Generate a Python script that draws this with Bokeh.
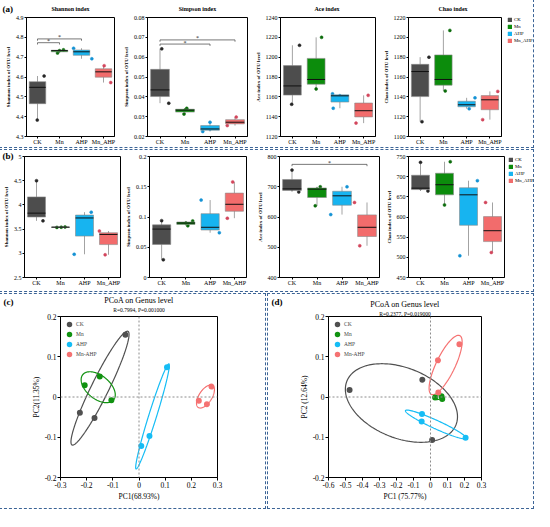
import numpy as np
from bokeh.plotting import figure
from bokeh.models import Range1d, FixedTicker, Label, Legend, LegendItem, Span, GridBox
from bokeh.layouts import row
from bokeh.embed import file_html
from bokeh.resources import INLINE

SERIF = "Liberation Serif"

# ---------------- data: box plots (three replicates per group, low/mid/high) ----------------
groups = ["CK", "Mn", "AHP", "Mn_AHP"]
box_fill = ["#4d4d4d", "#0c8c0c", "#17b4f0", "#f26c6c"]
dot_color = ["#262626", "#0b6b0b", "#1592d4", "#d2465c"]

a_shannon = [[4.383, 4.548, 4.605], [4.721, 4.733, 4.737], [4.692, 4.727, 4.745], [4.572, 4.626, 4.657]]
a_simpson = [[0.0368, 0.0435, 0.0642], [0.0313, 0.0333, 0.0342], [0.0225, 0.0238, 0.0272], [0.0255, 0.0272, 0.0298]]
a_ace = [[1152.5, 1171, 1212], [1168, 1177.5, 1220], [1148.5, 1161, 1163], [1133.5, 1146, 1161.5]]
a_chao = [[1115, 1165.5, 1180], [1146, 1157.5, 1207], [1128, 1132, 1139], [1117, 1137, 1145.5]]

b_shannon = [[3.67, 3.83, 4.5], [3.535, 3.54, 3.545], [2.98, 3.73, 3.85], [2.97, 3.39, 3.46]]
b_simpson = [[0.0293, 0.080, 0.094], [0.0855, 0.090, 0.0935], [0.074, 0.083, 0.128], [0.098, 0.121, 0.158]]
b_ace = [[683, 693, 755], [637, 692, 700], [608, 670, 700], [505, 566, 648]]
b_chao = [[664.5, 671.5, 735.5], [630, 680, 737], [504, 655, 690], [512, 566, 636]]

# horizontal jitter of the replicate points (category units)
a_shannon_jit = [[-0.01, 0.0, 0.30], [-0.09, 0.0, 0.18], [0.47, 0.0, -0.36], [0.33, 0.0, 0.03]]
a_simpson_jit = [[0.35, 0.0, 0.07], [-0.04, 0.0, 0.07], [-0.29, 0.0, 0.0], [-0.31, 0.0, 0.05]]
a_ace_jit = [[-0.03, 0.0, 0.30], [0.0, 0.0, 0.23], [-0.28, 0.0, -0.31], [-0.32, 0.0, 0.19]]
a_chao_jit = [[0.08, 0.0, 0.38], [0.08, 0.0, 0.28], [0.11, 0.0, 0.36], [-0.31, 0.0, 0.34]]
b_shannon_jit = [[0.27, 0.0, 0.0], [-0.15, 0.03, 0.19], [-0.43, 0.0, 0.28], [-0.14, 0.0, -0.38]]
b_simpson_jit = [[0.07, 0.0, 0.0], [0.08, 0.0, 0.28], [0.38, 0.0, -0.37], [-0.29, 0.0, -0.07]]
b_ace_jit = [[0.27, 0.0, 0.0], [-0.07, 0.0, 0.13], [-0.45, 0.0, 0.2], [-0.29, 0.0, -0.5]]
b_chao_jit = [[0.31, 0.0, 0.0], [0.0, 0.0, 0.24], [-0.36, 0.0, 0.37], [-0.05, 0.0, -0.29]]

# significance brackets: (group from, group to, height)
a_shannon_sig = [(1, 2, 4.773), (1, 3, 4.792)]
a_simpson_sig = [(1, 3, 0.0666), (1, 4, 0.0687)]
b_ace_sig = [(1, 4, 774)]

# titles
a_titles = ["Shannon index", "Simpson index", "Ace index", "Chao index"]
y_titles = ["Shannon index of OTU level", "Simpson index of OTU level",
            "Ace index of OTU level", "Chao index of OTU level"]

# axis ticks
a_shannon_ticks = [4.3, 4.4, 4.5, 4.6, 4.7, 4.8, 4.9]
a_shannon_labels = ["4.3", "4.4", "4.5", "4.6", "4.7", "4.8", "4.9"]
a_simpson_ticks = [0.02, 0.03, 0.04, 0.05, 0.06, 0.07, 0.08]
a_simpson_labels = ["0.02", "0.03", "0.04", "0.05", "0.06", "0.07", "0.08"]
a_ace_ticks = [1120, 1140, 1160, 1180, 1200, 1220, 1240]
a_ace_labels = ["1120", "1140", "1160", "1180", "1200", "1220", "1240"]
a_chao_ticks = [1100, 1120, 1140, 1160, 1180, 1200, 1220]
a_chao_labels = ["1100", "1120", "1140", "1160", "1180", "1200", "1220"]
b_shannon_ticks = [2.5, 3, 3.5, 4, 4.5, 5]
b_shannon_labels = ["2.5", "3", "3.5", "4", "4.5", "5"]
b_simpson_ticks = [0, 0.05, 0.1, 0.15, 0.2]
b_simpson_labels = ["0", "0.05", "0.1", "0.15", "0.2"]
b_ace_ticks = [400, 500, 600, 700, 800]
b_ace_labels = ["400", "500", "600", "700", "800"]
b_chao_ticks = [450, 500, 550, 600, 650, 700, 750]
b_chao_labels = ["450", "500", "550", "600", "650", "700", "750"]

# ---------------- data: PCoA ----------------
pc_groups = ["CK", "Mn", "AHP", "Mn-AHP"]
pc_colors = ["#505050", "#119211", "#16bdf5", "#f57272"]

c_x = [[-0.052, -0.226, -0.170], [-0.2075, -0.150, -0.1056], [0.107, 0.040, 0.0087], [0.277, 0.2286, 0.2596]]
c_y = [[0.1545, -0.039, -0.052], [0.029, 0.051, -0.0078], [0.0737, -0.097, -0.122], [0.0259, -0.0094, -0.018]]
# ellipses: centre (cx, cy) and conjugate semi-axis vectors u, v
c_ell = [(-0.149, 0.022, 0.1068, 0.1412, 0.0303, -0.0091),
         (-0.1559, 0.0243, 0.0652, -0.0187, 0.0, -0.0336),
         (0.0516, -0.0482, 0.0627, 0.1306, 0.0143, -0.0027),
         (0.254, 0.0012, 0.0342, 0.0166, 0.0, -0.0233)]

d_x = [[-0.476, -0.048, 0.0096], [0.027, 0.065, 0.069], [-0.050, -0.052, 0.2065], [0.170, 0.044, 0.046]]
d_y = [[0.0177, 0.043, -0.107], [-0.001, 0.002, -0.005], [-0.042, -0.061, -0.101], [0.131, 0.091, 0.011]]
d_ell = [(-0.171, -0.0149, 0.3298, -0.034, 0.0, -0.0915),
         (0.0468, -0.0004, 0.0258, 0.002, 0.0, 0.0056),
         (0.0316, -0.0683, 0.1788, -0.0345, -0.0104, -0.0095),
         (0.0889, 0.0795, 0.0832, 0.0731, 0.0501, -0.0100)]

c_xticks = [-0.3, -0.2, -0.1, 0, 0.1, 0.2, 0.3]
c_xlabels = ["-0.3", "-0.2", "-0.1", "0", "0.1", "0.2", "0.3"]
d_xticks = [-0.6, -0.5, -0.4, -0.3, -0.2, -0.1, 0, 0.1, 0.2, 0.3]
d_xlabels = ["-0.6", "-0.5", "-0.4", "-0.3", "-0.2", "-0.1", "0", "0.1", "0.2", "0.3"]
pc_yticks = [-0.2, -0.1, 0, 0.1, 0.2]
pc_ylabels = ["-0.2", "-0.1", "0", "0.1", "0.2"]
pc_title = "PCoA on Genus level"
c_stat = "R=0.7994, P=0.001000"
d_stat = "R=0.2377, P=0.019000"

DASH = {"outline": "1px dashed #3c6496", "outline-offset": "0px"}


def make_fig(geom, xr, yr):
    w, h, bl, br, bt, bb = geom
    p = figure(width=w, height=h, x_range=xr, y_range=yr, output_backend="svg",
               toolbar_location=None, min_border_left=bl, min_border_right=br,
               min_border_top=bt, min_border_bottom=bb)
    p.grid.visible = False
    p.outline_line_color = "black"
    p.outline_line_width = 1
    p.outline_line_alpha = 1
    p.background_fill_color = "white"
    p.border_fill_color = "white"
    return p


def style_axes(p, tick_size, label_size, tick_out, std, lab_std, bold):
    for ax in list(p.xaxis) + list(p.yaxis):
        ax.axis_line_color = "black"
        ax.axis_line_width = 1
        ax.major_tick_line_color = "black"
        ax.major_tick_in = 0
        ax.major_tick_out = tick_out
        ax.minor_tick_line_color = None
        ax.major_label_text_font = SERIF
        ax.major_label_text_font_size = tick_size
        ax.major_label_text_color = "black"
        ax.major_label_standoff = std
        ax.axis_label_text_font = SERIF
        ax.axis_label_text_font_size = label_size
        ax.axis_label_text_font_style = "bold" if bold else "normal"
        ax.axis_label_text_color = "black"
        ax.axis_label_standoff = lab_std


def box_panel(vals, jit, ylim, yticks, ylabels, ylabel, geom, sig=()):
    p = make_fig(geom, Range1d(0.5, 4.5), Range1d(*ylim))
    xs = np.arange(1, len(groups) + 1, dtype=float)
    v = np.array(vals, dtype=float)
    q1 = np.percentile(v, 25, axis=1)
    med = np.median(v, axis=1)
    q3 = np.percentile(v, 75, axis=1)
    lo = v.min(axis=1)
    hi = v.max(axis=1)
    p.segment(x0=xs, y0=lo, x1=xs, y1=hi, line_color="#a3a3a3", line_width=1)
    for i in range(len(groups)):
        p.scatter(xs[i] + np.array(jit[i]), v[i], size=3, fill_color=dot_color[i],
                  line_color=dot_color[i], line_width=0.5)
    p.vbar(x=xs, bottom=q1, top=q3, width=0.75, fill_color=box_fill,
           line_color="#8a8a8a", line_width=0.6)
    p.segment(x0=xs - 0.375, y0=med, x1=xs + 0.375, y1=med, line_color="#111111", line_width=1)

    span = ylim[1] - ylim[0]
    for (i, j, yb) in sig:
        d = 0.015 * span
        p.line([i, i, j, j], [yb - d, yb, yb, yb - d], line_color="#555555", line_width=0.8)
        p.add_layout(Label(x=(i + j) / 2, y=yb, y_offset=1.5, text="*", text_align="center",
                           text_baseline="middle", text_font=SERIF, text_font_size="6px",
                           text_color="#222222"))

    p.xaxis.ticker = FixedTicker(ticks=list(xs))
    p.xaxis.major_label_overrides = {int(x): g for x, g in zip(xs, groups)}
    p.yaxis.ticker = FixedTicker(ticks=yticks)
    p.yaxis.major_label_overrides = dict(zip(yticks, ylabels))
    p.yaxis.axis_label = ylabel
    style_axes(p, "6px", "5px", 2, 1, 2, True)
    p.xaxis.major_label_standoff = 0
    return p


def pcoa_panel(xs, ys, ell, xlim, xticks, xlabels, xlab, ylab, geom):
    p = make_fig(geom, Range1d(*xlim), Range1d(-0.2, 0.2))
    p.add_layout(Span(location=0, dimension="height", line_color="#8c8c8c",
                      line_dash="2 2", line_width=1))
    p.add_layout(Span(location=0, dimension="width", line_color="#8c8c8c",
                      line_dash="2 2", line_width=1))
    t = np.linspace(0, 2 * np.pi, 200)
    for i in range(len(pc_groups)):
        cx, cy, ux, uy, vx, vy = ell[i]
        p.line(cx + ux * np.cos(t) + vx * np.sin(t), cy + uy * np.cos(t) + vy * np.sin(t),
               line_color=pc_colors[i], line_width=1.2)
    items = []
    for i, g in enumerate(pc_groups):
        r = p.scatter(xs[i], ys[i], size=4.5, fill_color=pc_colors[i], line_color=pc_colors[i],
                      line_width=1.5)
        items.append(LegendItem(label=g, renderers=[r]))
    lg = Legend(items=items, location="top_left", margin=3, padding=2, glyph_width=12,
                glyph_height=10, label_height=10, spacing=0, label_standoff=1,
                label_text_font=SERIF, label_text_font_size="5.5px",
                border_line_color=None, background_fill_alpha=0)
    p.add_layout(lg)

    p.xaxis.ticker = FixedTicker(ticks=xticks)
    p.xaxis.major_label_overrides = dict(zip(xticks, xlabels))
    p.yaxis.ticker = FixedTicker(ticks=pc_yticks)
    p.yaxis.major_label_overrides = dict(zip(pc_yticks, pc_ylabels))
    p.xaxis.axis_label = xlab
    p.yaxis.axis_label = ylab
    style_axes(p, "7.5px", "7.5px", 3, 1, 1, False)
    return p


# ---------------- layout geometry: (width, height, border left, right, top, bottom) ----------------
GA = [(120, 147, 26, 6, 17, 10), (132, 147, 27, 5, 17, 10),
      (128, 147, 26, 5, 17, 10), (153, 147, 24, 32, 17, 10)]
GB = [(122, 141, 24, 2, 6, 14), (130, 141, 25, 6, 6, 14),
      (131, 141, 27, 4, 6, 14), (150, 141, 23, 29, 6, 14)]
GC = (265, 214, 60, 48, 18, 31)
GD = (265, 214, 60, 52, 22, 31)
GAP = 3
PAGE_W = 533
PAGE_H = GA[0][1] + GB[0][1] + GC[1] + 2 * GAP

fa = [box_panel(a_shannon, a_shannon_jit, (4.3, 4.9), a_shannon_ticks, a_shannon_labels,
                y_titles[0], GA[0], sig=a_shannon_sig),
      box_panel(a_simpson, a_simpson_jit, (0.02, 0.08), a_simpson_ticks, a_simpson_labels,
                y_titles[1], GA[1], sig=a_simpson_sig),
      box_panel(a_ace, a_ace_jit, (1120, 1240), a_ace_ticks, a_ace_labels, y_titles[2], GA[2]),
      box_panel(a_chao, a_chao_jit, (1100, 1220), a_chao_ticks, a_chao_labels, y_titles[3], GA[3])]

fb = [box_panel(b_shannon, b_shannon_jit, (2.5, 5), b_shannon_ticks, b_shannon_labels,
                y_titles[0], GB[0]),
      box_panel(b_simpson, b_simpson_jit, (0, 0.2), b_simpson_ticks, b_simpson_labels,
                y_titles[1], GB[1]),
      box_panel(b_ace, b_ace_jit, (400, 800), b_ace_ticks, b_ace_labels, y_titles[2], GB[2],
                sig=b_ace_sig),
      box_panel(b_chao, b_chao_jit, (450, 750), b_chao_ticks, b_chao_labels, y_titles[3], GB[3])]

fc = pcoa_panel(c_x, c_y, c_ell, (-0.3, 0.3), c_xticks, c_xlabels, "PC1(68.93%)", "PC2(11.35%)", GC)
fd = pcoa_panel(d_x, d_y, d_ell, (-0.6, 0.3), d_xticks, d_xlabels, "PC1 (75.77%)", "PC2 (12.64%)", GD)
fc.styles = DASH
fd.styles = DASH

rowA = row(*fa, styles=DASH)
rowB = row(*fb, styles=DASH)
rowC = row(fc, fd, spacing=GAP)

# ---------------- transparent text layer (titles, panel tags, legends) ----------------
ov = figure(width=PAGE_W, height=PAGE_H, x_range=Range1d(0, PAGE_W), y_range=Range1d(PAGE_H, 0),
            x_axis_type=None, y_axis_type=None, output_backend="svg", toolbar_location=None,
            min_border=0)
ov.outline_line_color = None
ov.background_fill_alpha = 0
ov.border_fill_alpha = 0


def txt(x, y, text, size, bold=False, align="center"):
    ov.add_layout(Label(x=x, y=y, text=text, text_align=align, text_baseline="middle",
                        text_font=SERIF, text_font_size=size,
                        text_font_style="bold" if bold else "normal", text_color="black"))


def frame_box(geoms, i, x_base=0):
    x0 = x_base + sum(g[0] for g in geoms[:i])
    w, h, bl, br, bt, bb = geoms[i]
    return x0 + bl, x0 + w - br, bt


yA, yB = 0, GA[0][1] + GAP
yC = yB + GB[0][1] + GAP

txt(2, yA + 8.8, "(a)", "9px", True, "left")
for i, t in enumerate(a_titles):
    l, r, top = frame_box(GA, i)
    txt((l + r) / 2, yA + top - 8.5, t, "6px", True)
txt(2, yB + GB[0][4] - 0.3, "(b)", "9px", True, "left")

c_l, c_r, c_top = frame_box([GC], 0)
d_l, d_r, d_top = frame_box([GD], 0, GC[0] + GAP)
txt(3, yC + 7, "(c)", "9px", True, "left")
txt((c_l + c_r) / 2, yC + c_top - 11.6, pc_title, "8px")
txt((c_l + c_r) / 2, yC + c_top - 2.5, c_stat, "5.5px")
txt(GC[0] + GAP + 3, yC + 7, "(d)", "9px", True, "left")
txt((d_l + d_r) / 2, yC + d_top - 11.6, pc_title, "8px")
txt((d_l + d_r) / 2, yC + d_top - 2.9, d_stat, "5.5px")


def box_legend(x_left, y_top):
    items = []
    for i, g in enumerate(groups):
        r = ov.vbar(x=[np.nan], top=[np.nan], bottom=[np.nan], width=1, fill_color=box_fill[i],
                    line_color=box_fill[i], line_width=0.5)
        items.append(LegendItem(label=g, renderers=[r]))
    leg_h = 4 * 5 + 3 * 2
    ov.add_layout(Legend(items=items, location=(x_left, PAGE_H - y_top - leg_h),
                         glyph_width=5, glyph_height=5, label_height=5, spacing=2, padding=0,
                         margin=0, label_standoff=2, label_text_font=SERIF,
                         label_text_font_size="4.8px", label_text_color="black",
                         border_line_color=None, background_fill_alpha=0))


la_l, la_r, la_top = frame_box(GA, 3)
box_legend(la_r + 6, yA + la_top)
lb_l, lb_r, lb_top = frame_box(GB, 3)
box_legend(lb_r + 4, yB + lb_top + 1)

page = GridBox(children=[(rowA, 0, 0), (rowB, 1, 0), (rowC, 2, 0), (ov, 0, 0, 3, 1)],
               spacing=GAP)

open("out.html", "w").write(file_html(page, INLINE))
